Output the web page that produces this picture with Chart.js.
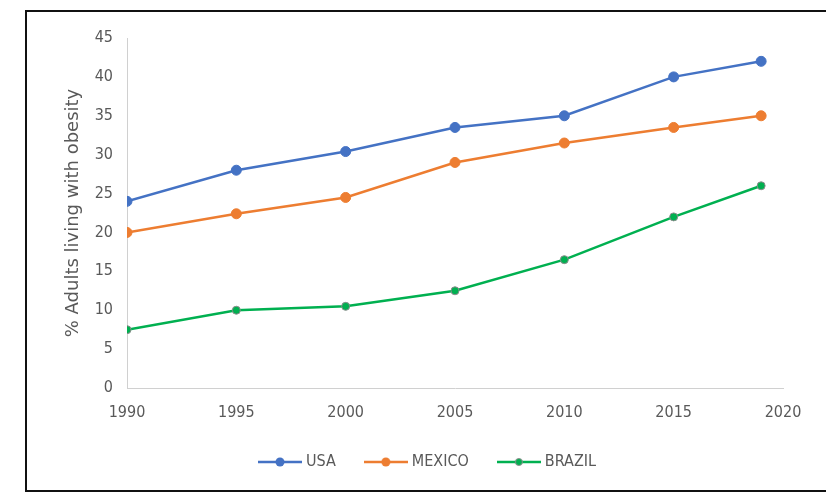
<!DOCTYPE html>
<html>
<head>
<meta charset="utf-8">
<script src="https://cdn.jsdelivr.net/npm/chart.js@4/dist/chart.umd.min.js"></script>
<style>
    html, body { margin: 0; padding: 0; background: #fff; }
    #wrap { position: relative; width: 826px; height: 497px; overflow: hidden; }
    #frame {
        position: absolute;
        left: 25px;
        top: 10px;
        width: 830px;
        height: 478px;
        border: 2px solid #111;
        pointer-events: none;
    }
</style>
</head>
<body>
<div id="wrap">
    <canvas id="chart" width="826" height="497"></canvas>
    <div id="frame"></div>
</div>
<script>
// =============================
// DATA
// =============================
const years = [1990, 1995, 2000, 2005, 2010, 2015, 2019];
const usa = [24, 28, 30.4, 33.5, 35, 40, 42];
const mexico = [20, 22.4, 24.5, 29, 31.5, 33.5, 35];
const brazil = [7.5, 10, 10.5, 12.5, 16.5, 22, 26];
const xTicks = [1990, 1995, 2000, 2005, 2010, 2015, 2020];
const yTicks = [0, 5, 10, 15, 20, 25, 30, 35, 40, 45];

const TICK_FONT = "'Liberation Sans Narrow', 'DejaVu Sans Condensed', 'Liberation Sans', sans-serif";
const GREY = "#595959";

// =============================
// LEGEND SWATCH (line + marker)
// =============================
function swatch(color, radius, border) {
    const c = document.createElement("canvas");
    c.width = 44;
    c.height = 14;
    const g = c.getContext("2d");
    g.strokeStyle = color;
    g.lineWidth = 2.5;
    g.beginPath();
    g.moveTo(0, 7);
    g.lineTo(44, 7);
    g.stroke();
    g.beginPath();
    g.arc(22, 7, radius, 0, Math.PI * 2);
    g.fillStyle = color;
    g.fill();
    if (border) {
        g.lineWidth = 1;
        g.strokeStyle = border;
        g.stroke();
    }
    return c;
}

const series = [
    { label: "USA", data: usa, color: "#4472C4", r: 5, border: "#4472C4" },
    { label: "MEXICO", data: mexico, color: "#ED7D31", r: 5, border: "#ED7D31" },
    { label: "BRAZIL", data: brazil, color: "#00B050", r: 4, border: "#8c8c8c" }
];

const datasets = series.map(s => ({
    label: s.label,
    data: years.map((yr, i) => ({ x: yr, y: s.data[i] })),
    borderColor: s.color,
    backgroundColor: s.color,
    borderWidth: 2.5,
    pointRadius: s.r,
    pointBackgroundColor: s.color,
    pointBorderColor: s.border,
    pointBorderWidth: 1,
    pointStyle: "circle",
    tension: 0,
    legendSwatch: swatch(s.color, s.r - 0.5, s.border === s.color ? null : s.border)
}));

// nudge the legend a bit right, like the original
const legendShift = {
    id: "legendShift",
    afterLayout(chart) {
        chart.legend.left += 6;
        chart.legend.right += 6;
    }
};

// =============================
// CHART
// =============================
new Chart(document.getElementById("chart"), {
    type: "line",
    data: { datasets },
    plugins: [legendShift],
    options: {
        responsive: false,
        animation: false,
        layout: { padding: { left: 63, right: 43, top: 38, bottom: 17 } },
        plugins: {
            tooltip: { enabled: false },
            legend: {
                position: "bottom",
                labels: {
                    usePointStyle: true,
                    pointStyleWidth: 36,
                    boxHeight: 14,
                    padding: 32,
                    color: GREY,
                    font: { family: TICK_FONT, size: 16 },
                    generateLabels: chart => chart.data.datasets.map((ds, i) => ({
                        text: ds.label,
                        pointStyle: ds.legendSwatch,
                        fontColor: GREY,
                        datasetIndex: i,
                        hidden: false,
                        lineWidth: 0
                    }))
                }
            }
        },
        scales: {
            x: {
                type: "linear",
                min: 1990,
                max: 2020,
                afterBuildTicks: scale => { scale.ticks = xTicks.map(v => ({ value: v })); },
                afterFit: scale => { scale.height = 34; },
                grid: { display: false, drawTicks: false },
                border: { display: true, color: "#d0d0d0", width: 1 },
                ticks: {
                    color: GREY,
                    padding: 15,
                    font: { family: TICK_FONT, size: 16 },
                    callback: v => String(v)
                }
            },
            y: {
                min: 0,
                max: 45,
                afterBuildTicks: scale => { scale.ticks = yTicks.map(v => ({ value: v })); },
                afterFit: scale => { scale.width = 64; },
                grid: { display: false, drawTicks: false },
                border: { display: true, color: "#d0d0d0", width: 1 },
                ticks: {
                    color: GREY,
                    padding: 14,
                    font: { family: TICK_FONT, size: 16 }
                },
                title: {
                    display: true,
                    text: "% Adults living with obesity",
                    color: GREY,
                    padding: 0,
                    font: { family: "'DejaVu Sans', sans-serif", size: 18 }
                }
            }
        }
    }
});
</script>
</body>
</html>
